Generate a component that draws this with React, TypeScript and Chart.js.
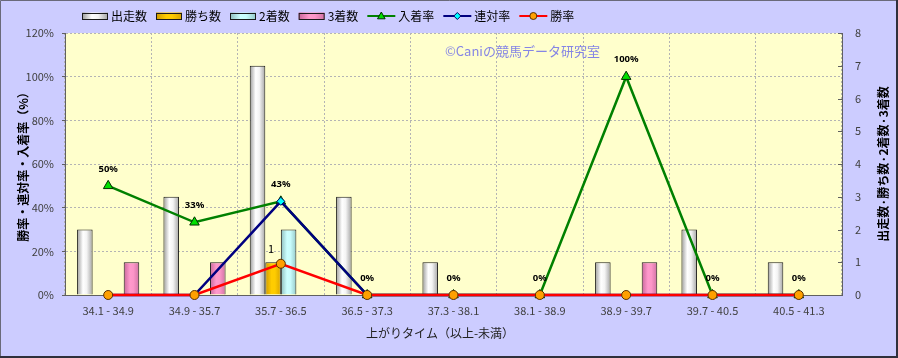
import React, { useEffect, useRef } from 'react';
import { Chart, registerables } from 'chart.js';

Chart.register(...registerables);

// ---------- data ----------
const CATEGORIES = [
  '34.1 - 34.9',
  '34.9 - 35.7',
  '35.7 - 36.5',
  '36.5 - 37.3',
  '37.3 - 38.1',
  '38.1 - 38.9',
  '38.9 - 39.7',
  '39.7 - 40.5',
  '40.5 - 41.3',
];
const RUNNERS = [2, 3, 7, 3, 1, 0, 1, 2, 1];
const WINS = [0, 0, 1, 0, 0, 0, 0, 0, 0];
const SECONDS = [0, 0, 2, 0, 0, 0, 0, 0, 0];
const THIRDS = [1, 1, 0, 0, 0, 0, 1, 0, 0];
const PLACE_RATE = [50, 33.3, 42.9, 0, 0, 0, 100, 0, 0];
const QUINELLA_RATE = [0, 0, 42.9, 0, 0, 0, 0, 0, 0];
const WIN_RATE = [0, 0, 14.3, 0, 0, 0, 0, 0, 0];
const LEFT_TICKS = [0, 20, 40, 60, 80, 100, 120];
const RIGHT_TICKS = [0, 1, 2, 3, 4, 5, 6, 7, 8];

const SERIES_NAMES = ['出走数', '勝ち数', '2着数', '3着数', '入着率', '連対率', '勝率'];
const TITLE_LEFT = '勝率・連対率・入着率（%）';
const TITLE_RIGHT = '出走数·勝ち数·2着数·3着数';
const TITLE_X = '上がりタイム（以上-未満）';
const WATERMARK = '©Caniの競馬データ研究室';

// ---------- styles ----------
const FONT = '"Noto Sans CJK JP", "Noto Sans", sans-serif';
const BAR_STOPS: [number, string][][] = [
  [[0, '#9a9a9a'], [0.38, '#ffffff'], [0.62, '#f4f4f4'], [1, '#a4a4a4']],
  [[0, '#cf9a00'], [0.4, '#ffcc00'], [0.62, '#ffcc00'], [1, '#d8a400']],
  [[0, '#8cbcbc'], [0.4, '#ccffff'], [0.62, '#c8fcfc'], [1, '#94c8c8']],
  [[0, '#c8669a'], [0.4, '#ff99cc'], [0.62, '#fc96c8'], [1, '#d072a4']],
];
const LINE_STYLES = [
  { line: '#008000', fill: '#00e000', border: '#003000', marker: 'triangle' },
  { line: '#000080', fill: '#00ffff', border: '#000060', marker: 'rectRot' },
  { line: '#ff0000', fill: '#ffa000', border: '#5a3000', marker: 'circle' },
];

function makeGradient(ctx: CanvasRenderingContext2D, x0: number, x1: number, stops: [number, string][]) {
  const g = ctx.createLinearGradient(x0, 0, x1, 0);
  stops.forEach(([o, c]) => g.addColorStop(o, c));
  return g;
}

function drawMarker(ctx: CanvasRenderingContext2D, kind: string, x: number, y: number, r: number, fill: string, border: string) {
  ctx.beginPath();
  if (kind === 'triangle') {
    ctx.moveTo(x, y - r);
    ctx.lineTo(x + r * 0.95, y + r * 0.7);
    ctx.lineTo(x - r * 0.95, y + r * 0.7);
    ctx.closePath();
  } else if (kind === 'rectRot') {
    ctx.moveTo(x, y - r);
    ctx.lineTo(x + r, y);
    ctx.lineTo(x, y + r);
    ctx.lineTo(x - r, y);
    ctx.closePath();
  } else {
    ctx.arc(x, y, r, 0, Math.PI * 2);
  }
  ctx.fillStyle = fill;
  ctx.fill();
  ctx.lineWidth = 1;
  ctx.strokeStyle = border;
  ctx.stroke();
}

const decorPlugin = {
  id: 'decor',
  beforeDraw(chart: any) {
    const { ctx, chartArea: a, width, height } = chart;
    ctx.save();
    ctx.fillStyle = '#ccccff';
    ctx.fillRect(0, 0, width, height);
    ctx.fillStyle = '#ffffcc';
    ctx.fillRect(a.left, a.top, a.right - a.left, a.bottom - a.top);
    ctx.restore();
  },
  beforeDatasetsDraw(chart: any) {
    const { ctx } = chart;
    // watermark
    ctx.save();
    ctx.font = `13px ${FONT}`;
    ctx.fillStyle = '#8585e5';
    ctx.textBaseline = 'middle';
    ctx.textAlign = 'left';
    ctx.fillText(WATERMARK, 445, 51);
    ctx.restore();
    // bar gradients
    chart.data.datasets.forEach((ds: any, i: number) => {
      if (ds.type !== 'bar') return;
      const meta = chart.getDatasetMeta(i);
      meta.data.forEach((el: any) => {
        const { x, width } = el.getProps(['x', 'width'], true);
        const g = makeGradient(ctx, x - width / 2, x + width / 2, BAR_STOPS[i]);
        el.options = { ...el.options, backgroundColor: g };
      });
    });
  },
  afterDatasetsDraw(chart: any) {
    const { ctx } = chart;
    ctx.save();
    // place-rate labels
    const lineIdx = chart.data.datasets.findIndex((d: any) => d.label === SERIES_NAMES[4]);
    const lm = chart.getDatasetMeta(lineIdx);
    ctx.font = `bold 9.5px "Noto Sans", sans-serif`;
    ctx.fillStyle = '#000';
    ctx.textAlign = 'center';
    ctx.textBaseline = 'middle';
    lm.data.forEach((pt: any, j: number) => {
      const v = PLACE_RATE[j];
      ctx.fillText(Math.round(v) + '%', pt.x, pt.y - 17);
    });
    // win count label
    const wm = chart.getDatasetMeta(1);
    ctx.font = `11px ${FONT}`;
    wm.data.forEach((el: any, j: number) => {
      if (WINS[j] > 0) ctx.fillText(String(WINS[j]), el.x - 2, el.y - 13);
    });
    ctx.restore();
  },
  afterDraw(chart: any) {
    const { ctx, chartArea: a, width, height } = chart;
    ctx.save();
    // right axis inner tick marks
    const y1 = chart.scales.y1;
    ctx.strokeStyle = '#606060';
    ctx.lineWidth = 1;
    RIGHT_TICKS.forEach((v) => {
      const y = Math.round(y1.getPixelForValue(v)) + 0.5;
      ctx.beginPath();
      ctx.moveTo(a.right - 4, y);
      ctx.lineTo(a.right, y);
      ctx.stroke();
    });
    // axis titles
    ctx.fillStyle = '#000';
    ctx.textAlign = 'center';
    ctx.textBaseline = 'middle';
    const cy = (a.top + a.bottom) / 2;
    ctx.font = `bold 12px ${FONT}`;
    ctx.save();
    ctx.translate(23, cy);
    ctx.rotate(-Math.PI / 2);
    ctx.fillText(TITLE_LEFT, 0, 0);
    ctx.restore();
    ctx.save();
    ctx.translate(883, cy);
    ctx.rotate(-Math.PI / 2);
    ctx.fillText(TITLE_RIGHT, 0, 0);
    ctx.restore();
    ctx.font = `12px ${FONT}`;
    ctx.fillStyle = '#222';
    ctx.fillText(TITLE_X, 440, 333);

    // legend
    ctx.font = `12px ${FONT}`;
    ctx.textAlign = 'left';
    ctx.fillStyle = '#000';
    let x = 82;
    const ly = 16;
    SERIES_NAMES.forEach((name, i) => {
      if (i < 4) {
        const w = 26, h = 7;
        ctx.fillStyle = makeGradient(ctx, x, x + w, BAR_STOPS[i]);
        ctx.fillRect(x, ly - 3.5, w, h);
        ctx.strokeStyle = '#1a1a1a';
        ctx.lineWidth = 1;
        ctx.strokeRect(x + 0.5, Math.round(ly - 3.5) + 0.5, w - 1, h - 1);
        x += w;
      } else {
        const st = LINE_STYLES[i - 4];
        const w = 28;
        ctx.strokeStyle = st.line;
        ctx.lineWidth = 2;
        ctx.beginPath();
        ctx.moveTo(x, ly);
        ctx.lineTo(x + w, ly);
        ctx.stroke();
        drawMarker(ctx, st.marker, x + w / 2, ly, st.marker === 'triangle' ? 4 : 3.5, st.fill, st.border);
        x += w;
      }
      x += 3;
      ctx.fillStyle = '#000';
      ctx.fillText(name, x, ly);
      x += ctx.measureText(name).width + 9;
    });

    // frame
    ctx.strokeStyle = '#6a6a7a';
    ctx.lineWidth = 1;
    ctx.beginPath();
    ctx.moveTo(0.5, height);
    ctx.lineTo(0.5, 0.5);
    ctx.lineTo(width, 0.5);
    ctx.stroke();
    ctx.strokeStyle = '#30303c';
    ctx.lineWidth = 2;
    ctx.beginPath();
    ctx.moveTo(width - 1, 0);
    ctx.lineTo(width - 1, height - 1);
    ctx.lineTo(0, height - 1);
    ctx.stroke();
    ctx.restore();
  },
};

export default function App() {
  const ref = useRef<HTMLCanvasElement | null>(null);

  useEffect(() => {
    document.body.style.margin = '0';
    if (!ref.current) return;
    Chart.defaults.font.family = FONT;

    const barData = [RUNNERS, WINS, SECONDS, THIRDS];
    const lineData = [PLACE_RATE, QUINELLA_RATE, WIN_RATE];

    const datasets: any[] = [
      ...barData.map((d, i) => ({
        type: 'bar',
        label: SERIES_NAMES[i],
        data: d,
        yAxisID: 'y1',
        backgroundColor: () => BAR_STOPS[i][1][1],
        borderColor: '#1a1a1a',
        borderWidth: 1,
        barPercentage: 1,
        categoryPercentage: 0.72,
        order: 10 + i,
      })),
      ...lineData.map((d, i) => {
        const st = LINE_STYLES[i];
        return {
          type: 'line',
          label: SERIES_NAMES[4 + i],
          data: d,
          yAxisID: 'y',
          borderColor: st.line,
          borderWidth: 2.5,
          tension: 0,
          fill: false,
          pointStyle: st.marker,
          pointRadius: st.marker === 'triangle' ? 5.5 : st.marker === 'rectRot' ? 4 : 4.5,
          pointBackgroundColor: st.fill,
          pointBorderColor: st.border,
          pointBorderWidth: 1,
          clip: false,
          order: 2 - i,
        };
      }),
    ];

    const chart = new Chart(ref.current, {
      type: 'bar',
      data: { labels: CATEGORIES, datasets },
      plugins: [decorPlugin],
      options: {
        animation: false,
        responsive: false,
        events: [],
        layout: { padding: { top: 33, left: 0, right: 0, bottom: 0 } },
        plugins: { legend: { display: false }, tooltip: { enabled: false } },
        scales: {
          x: {
            offset: true,
            grid: { display: true, offset: true, color: '#b4b4b4', lineWidth: 1, drawTicks: false },
            border: { display: true, color: '#606060', dash: [2, 2] },
            ticks: { color: '#404040', font: { size: 11, family: FONT }, padding: 9, maxRotation: 0, autoSkip: false },
            afterFit: (s: any) => { s.height = 63; },
          },
          y: {
            position: 'left',
            min: LEFT_TICKS[0],
            max: LEFT_TICKS[LEFT_TICKS.length - 1],
            ticks: {
              stepSize: LEFT_TICKS[1] - LEFT_TICKS[0],
              color: '#404040',
              font: { size: 11, family: FONT },
              padding: 8,
              callback: (v: any) => v + '%',
            },
            grid: { color: '#b4b4b4', lineWidth: 1, drawTicks: true, tickLength: 3, tickColor: '#606060', tickBorderDash: [] },
            border: { display: true, color: '#606060', dash: [2, 2] },
            afterFit: (s: any) => { s.width = 65; },
          },
          y1: {
            position: 'right',
            min: RIGHT_TICKS[0],
            max: RIGHT_TICKS[RIGHT_TICKS.length - 1],
            ticks: {
              stepSize: RIGHT_TICKS[1] - RIGHT_TICKS[0],
              color: '#404040',
              font: { size: 11, family: FONT },
              padding: 13,
            },
            grid: { drawOnChartArea: false, drawTicks: false },
            border: { display: true, color: '#606060' },
            afterFit: (s: any) => { s.width = 56; },
          },
        },
      } as any,
    } as any);

    return () => chart.destroy();
  }, []);

  return (
    <div style={{ width: 898, height: 358 }}>
      <canvas ref={ref} width={898} height={358} style={{ display: 'block', width: 898, height: 358 }} />
    </div>
  );
}
